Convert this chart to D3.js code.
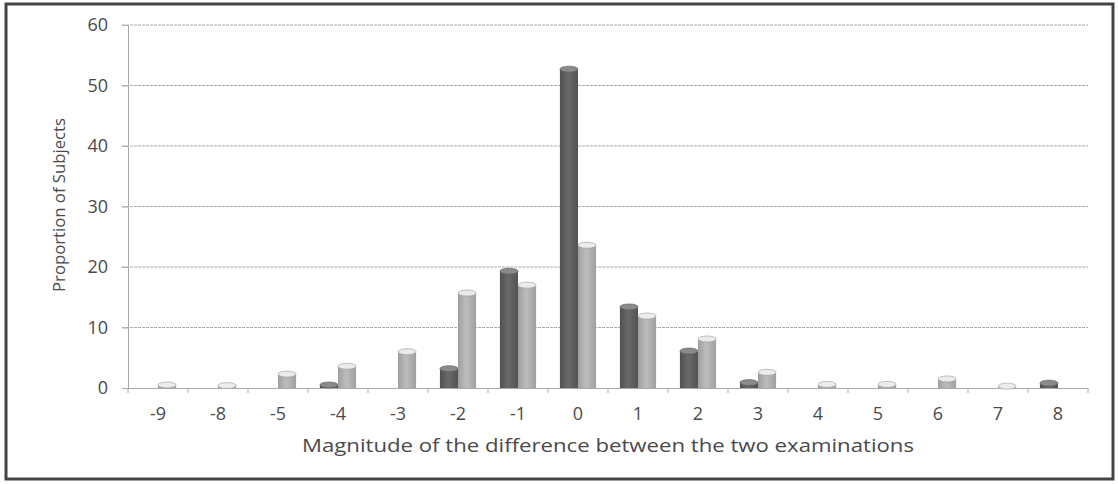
<!DOCTYPE html>
<html>
<head>
<meta charset="utf-8">
<script src="https://cdn.jsdelivr.net/npm/d3@7"></script>
<style>
  body { margin: 0; background: #fff; }
  text { font-family: "Open Sans", "DejaVu Sans", sans-serif; fill: #4a4a4a; }
</style>
</head>
<body>
<div id="chart"></div>
<script>
// categories on the x axis (difference between the two examinations)
const categories = ['-9', '-8', '-5', '-4', '-3', '-2', '-1', '0', '1', '2', '3', '4', '5', '6', '7', '8'];
// two series, values
const seriesDark = [0, 0, 0, 0.5, 0, 3.2, 19.3, 52.7, 13.4, 6.1, 0.9, 0, 0, 0, 0, 0.8];
const seriesLight = [0.5, 0.4, 2.3, 3.6, 6.0, 15.7, 17.0, 23.6, 11.9, 8.1, 2.6, 0.6, 0.6, 1.5, 0.3, 0];
const yTicks = [0, 10, 20, 30, 40, 50, 60];

const W = 1118, H = 484;
const margin = {top: 25, right: 30, bottom: 96, left: 128};

const svg = d3.select('#chart').append('svg')
    .attr('width', W)
    .attr('height', H);

// scanned page frame
svg.append('rect')
    .attr('x', 6).attr('y', 4)
    .attr('width', W - 11).attr('height', H - 9)
    .attr('fill', '#fff')
    .attr('stroke', '#444')
    .attr('stroke-width', 3);

const x = d3.scaleBand()
    .domain(categories)
    .range([margin.left, W - margin.right]);

const x1 = d3.scaleBand()
    .domain(['dark', 'light'])
    .range([0, x.bandwidth()])
    .paddingInner(0)
    .paddingOuter(0.66);

const y = d3.scaleLinear()
    .domain([0, 60])
    .range([H - margin.bottom, margin.top]);

// gradients giving the cylinder look
const defs = svg.append('defs');
function cyl(id, c0, c1, c2) {
    const g = defs.append('linearGradient').attr('id', id)
        .attr('x1', '0%').attr('x2', '100%').attr('y1', '0%').attr('y2', '0%');
    g.append('stop').attr('offset', '0%').attr('stop-color', c0);
    g.append('stop').attr('offset', '45%').attr('stop-color', c1);
    g.append('stop').attr('offset', '100%').attr('stop-color', c2);
}
cyl('gDark', '#505050', '#6a6a6a', '#525252');
cyl('gLight', '#9e9e9e', '#bdbdbd', '#a0a0a0');

// gridlines
svg.append('g')
    .selectAll('line')
    .data(yTicks.filter(d => d > 0))
    .enter().append('line')
    .attr('x1', margin.left - 6)
    .attr('x2', W - margin.right)
    .attr('y1', d => y(d))
    .attr('y2', d => y(d))
    .attr('stroke', '#aaa')
    .attr('stroke-width', 1)
    .attr('stroke-dasharray', '3,1');

// y axis
const yAxis = svg.append('g')
    .attr('transform', `translate(${margin.left},0)`)
    .call(d3.axisLeft(y).tickValues(yTicks).tickSize(6).tickPadding(14));
yAxis.select('.domain').attr('stroke', '#aaa');
yAxis.selectAll('.tick line').attr('stroke', '#aaa');
yAxis.selectAll('.tick text').style('font-size', '18px').attr('fill', '#4a4a4a');

// x axis, ticks between categories
const xAxis = svg.append('g')
    .attr('transform', `translate(0,${y(0)})`)
    .call(d3.axisBottom(x).tickSize(0).tickPadding(19));
xAxis.select('.domain').attr('stroke', '#aaa');
xAxis.selectAll('.tick text').style('font-size', '18px').attr('fill', '#4a4a4a');
xAxis.selectAll('.sep')
    .data(categories.concat(['end']))
    .enter().append('line')
    .attr('class', 'sep')
    .attr('x1', (d, i) => margin.left + i * x.step())
    .attr('x2', (d, i) => margin.left + i * x.step())
    .attr('y1', 0).attr('y2', 5)
    .attr('stroke', '#aaa');

// bars
const rows = categories.map((c, i) => ({c: c, dark: seriesDark[i], light: seriesLight[i]}));
const groups = svg.append('g').selectAll('g')
    .data(rows)
    .enter().append('g')
    .attr('transform', d => `translate(${x(d.c)},0)`);

const bars = groups.selectAll('g')
    .data(d => ['dark', 'light'].map(k => ({k: k, v: d[k]})).filter(e => e.v > 0))
    .enter().append('g');

bars.append('rect')
    .attr('x', d => x1(d.k))
    .attr('y', d => y(d.v))
    .attr('width', x1.bandwidth())
    .attr('height', d => y(0) - y(d.v))
    .attr('fill', d => d.k === 'dark' ? 'url(#gDark)' : 'url(#gLight)');

bars.append('ellipse')
    .attr('cx', d => x1(d.k) + x1.bandwidth() / 2)
    .attr('cy', d => y(d.v))
    .attr('rx', x1.bandwidth() / 2)
    .attr('ry', 3)
    .attr('fill', d => d.k === 'dark' ? '#8a8a8a' : '#ececec')
    .attr('stroke', d => d.k === 'dark' ? '#555' : '#999')
    .attr('stroke-width', 0.6);

// axis titles
svg.append('text')
    .attr('x', 608)
    .attr('y', 452)
    .attr('text-anchor', 'middle')
    .style('font-size', '18px')
    .attr('textLength', 612)
    .attr('lengthAdjust', 'spacingAndGlyphs')
    .text('Magnitude of the difference between the two examinations');

svg.append('text')
    .attr('transform', `translate(65,205) rotate(-90)`)
    .attr('text-anchor', 'middle')
    .style('font-size', '17px')
    .attr('textLength', 174)
    .attr('lengthAdjust', 'spacingAndGlyphs')
    .text('Proportion of Subjects');
</script>
</body>
</html>
